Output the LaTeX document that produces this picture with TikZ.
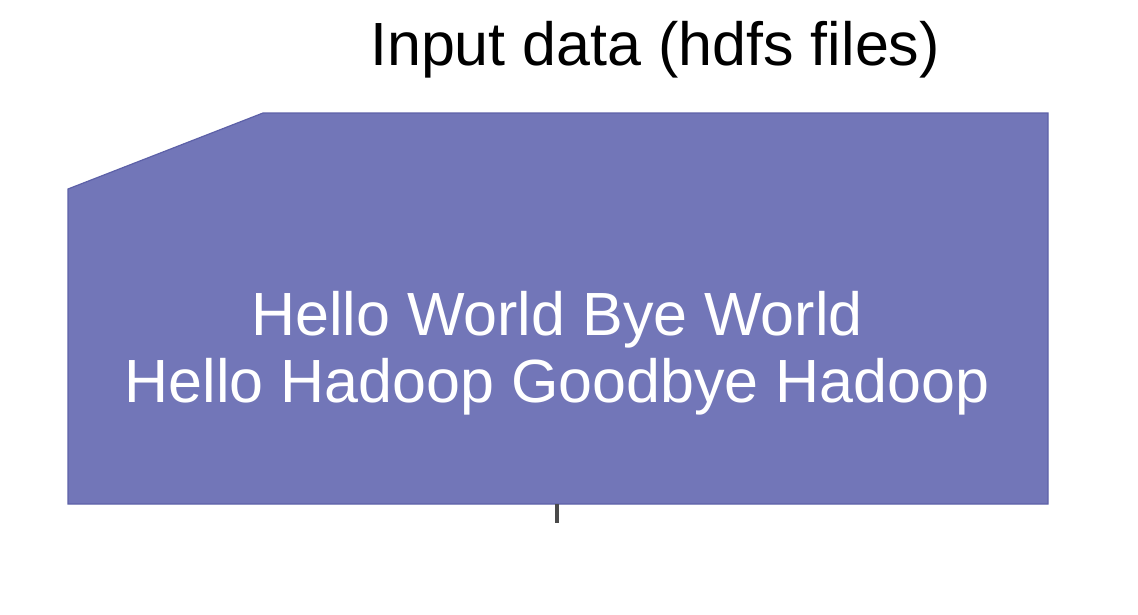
\documentclass[tikz,border=0pt]{standalone}
\usepackage{fontspec}
\setmainfont{Liberation Sans}
\usepackage{tikz}
\definecolor{boxblue}{HTML}{7276B8}
\definecolor{boxedge}{HTML}{5D61A8}
\definecolor{stubgray}{HTML}{4A4A4A}
\begin{document}
\begin{tikzpicture}[x=1pt,y=-1pt]
  \useasboundingbox (0,0) rectangle (1138,614);
  \node[anchor=base] (title) at (655,65) {\fontsize{61}{67}\selectfont Input data (hdfs files)};
  \filldraw[fill=boxblue,draw=boxedge,line width=1.2pt]
    (68,189) -- (263,113) -- (1048,113) -- (1048,504) -- (68,504) -- cycle;
  \coordinate (boxbottom) at (557,504);
  \coordinate (stubend) at (557,523);
  \node[text=white,align=center,font=\fontsize{61}{67}\selectfont] (content) at (557,353)
    {Hello World Bye World\\Hello Hadoop Goodbye Hadoop};
  \draw[stubgray,line width=4.5pt] (boxbottom) -- (stubend);
\end{tikzpicture}
\end{document}
